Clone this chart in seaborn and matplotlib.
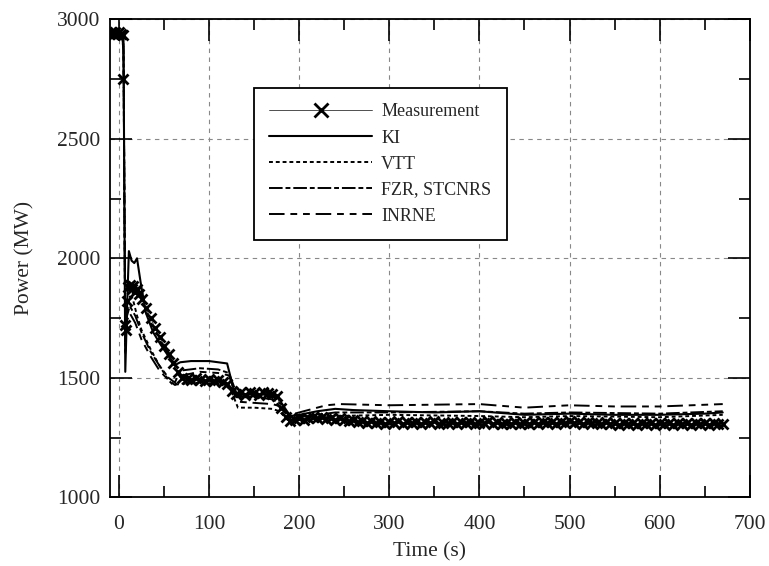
import numpy as np
import pandas as pd
import matplotlib
matplotlib.use("Agg")
import matplotlib.pyplot as plt
from matplotlib.ticker import MultipleLocator
import seaborn as sns

meas_t = [-10, -8, -6, -4, -2, 0, 2, 4, 5, 7, 8, 9, 10, 12, 14, 16, 18, 20, 22, 25] + list(range(30, 675, 5))
meas_p = [2940, 2945, 2940, 2945, 2940, 2945, 2940, 2935, 2750, 1720, 1700, 1820, 1880, 1890, 1870, 1885, 1860, 1870, 1850, 1830,
          1790, 1750, 1710, 1670, 1635, 1600, 1560, 1525, 1500, 1495, 1490, 1500, 1490, 1485, 1495, 1488, 1490, 1482, 1475,
          1445, 1432, 1440, 1430, 1442, 1436, 1428, 1440, 1435, 1432, 1425, 1375, 1335, 1320, 1325, 1330, 1322, 1332, 1338,
          1330, 1336, 1328, 1332, 1325, 1330, 1322, 1318, 1325, 1316, 1320, 1312, 1318, 1310, 1316, 1308, 1315, 1310, 1318,
          1308, 1314, 1310, 1316, 1306, 1314, 1310, 1318, 1308, 1312, 1310, 1316, 1306, 1314, 1310, 1316, 1308, 1312, 1310,
          1318, 1306, 1314, 1308, 1312, 1306, 1314, 1308, 1312, 1306, 1314, 1308, 1316, 1310, 1314, 1306, 1316, 1310, 1318,
          1312, 1316, 1308, 1314, 1310, 1312, 1306, 1314, 1308, 1312, 1304, 1310, 1306, 1312, 1304, 1310, 1306, 1312, 1304,
          1310, 1306, 1312, 1304, 1310, 1306, 1310, 1304, 1312, 1306, 1310, 1304, 1310, 1306, 1308]

ki_t = [-10, 3, 5, 7, 9, 11, 14, 17, 20, 24, 30, 38, 46, 55, 63, 68, 80, 100, 120, 129, 140, 160, 175, 190, 200, 220, 240, 260, 300, 350, 400, 450, 500, 550, 600, 650, 670]
ki_p = [2940, 2940, 2930, 1525, 1800, 2030, 1990, 1980, 2000, 1900, 1770, 1690, 1640, 1590, 1555, 1565, 1570, 1570, 1560, 1425, 1430, 1430, 1425, 1340, 1345, 1360, 1370, 1365, 1360, 1355, 1360, 1345, 1350, 1345, 1345, 1350, 1355]

vtt_t = [-10, 3, 5, 7, 9, 12, 16, 20, 25, 35, 45, 55, 60, 70, 90, 110, 122, 132, 150, 170, 178, 188, 200, 220, 240, 300, 400, 450, 500, 600, 670]
vtt_p = [2935, 2935, 2900, 1600, 1780, 1840, 1820, 1760, 1700, 1620, 1550, 1490, 1470, 1475, 1480, 1475, 1470, 1375, 1375, 1370, 1360, 1320, 1325, 1330, 1340, 1345, 1340, 1335, 1340, 1335, 1345]

fzr_t = [-10, 3, 5, 7, 9, 12, 18, 25, 35, 45, 55, 62, 68, 90, 110, 122, 132, 150, 170, 180, 190, 210, 240, 300, 400, 450, 500, 600, 670]
fzr_p = [2940, 2940, 2880, 1650, 1760, 1800, 1760, 1690, 1610, 1550, 1500, 1480, 1530, 1540, 1535, 1520, 1420, 1420, 1410, 1390, 1330, 1340, 1355, 1355, 1360, 1350, 1355, 1350, 1360]

inr_t = [-10, 3, 5, 7, 9, 12, 18, 25, 35, 45, 55, 62, 70, 90, 110, 122, 132, 150, 170, 180, 190, 210, 230, 245, 300, 400, 450, 500, 550, 600, 670]
inr_p = [2940, 2940, 2870, 1700, 1740, 1770, 1730, 1660, 1590, 1530, 1490, 1470, 1510, 1525, 1520, 1510, 1400, 1395, 1390, 1380, 1345, 1365, 1385, 1390, 1385, 1390, 1375, 1385, 1380, 1380, 1390]

sns.set_theme(style="ticks")
plt.rcParams['font.family'] = ['Liberation Serif', 'DejaVu Serif']

fig = plt.figure(figsize=(7.69, 5.66), dpi=100)
ax = fig.add_axes([0.143, 0.1214, 0.832, 0.8445])

sns.lineplot(x=meas_t, y=meas_p, ax=ax, color='#333333', lw=0.6, marker='x', markersize=7.5,
             markeredgewidth=2.0, markeredgecolor='black', estimator=None, sort=False, label='Measurement')
sns.lineplot(x=ki_t, y=ki_p, ax=ax, color='black', lw=1.5, estimator=None, sort=False, label='KI')
sns.lineplot(x=vtt_t, y=vtt_p, ax=ax, color='black', lw=1.4, linestyle=(0, (2.0, 1.5)),
             estimator=None, sort=False, label='VTT')
sns.lineplot(x=fzr_t, y=fzr_p, ax=ax, color='black', lw=1.4, linestyle=(0, (7, 1.5, 2.5, 1.5)),
             estimator=None, sort=False, label='FZR, STCNRS')
sns.lineplot(x=inr_t, y=inr_p, ax=ax, color='black', lw=1.4, linestyle=(0, (8, 3, 3.5, 3, 3.5, 3)),
             estimator=None, sort=False, label='INRNE')

ax.set_xlim(-10, 700)
ax.set_ylim(1000, 3000)
ax.xaxis.set_major_locator(MultipleLocator(100))
ax.xaxis.set_minor_locator(MultipleLocator(50))
ax.yaxis.set_major_locator(MultipleLocator(500))
ax.yaxis.set_minor_locator(MultipleLocator(250))
ax.tick_params(which='both', direction='in', top=True, right=True, color='black', labelsize=15.5)
ax.tick_params(axis='x', which='both', pad=13)
ax.tick_params(axis='y', which='both', pad=7)
ax.tick_params(which='major', length=15.5, width=1.2)
ax.tick_params(which='minor', length=7.7, width=1.2)
ax.grid(True, which='major', color='#888888', linestyle=(0, (4, 4)), lw=0.8)
for s in ax.spines.values():
    s.set_linewidth(1.3)
    s.set_color('black')

ax.set_xlabel('Time (s)', fontsize=15.5, labelpad=6)
ax.set_ylabel('Power (MW)', fontsize=15.5, labelpad=16)

leg = ax.legend(loc='upper left', bbox_to_anchor=(0.225, 0.856), fontsize=13, handlelength=5.7,
                labelspacing=0.5, borderpad=0.85, handletextpad=0.5, markerscale=1.3,
                frameon=True, fancybox=False, edgecolor='black', framealpha=1, borderaxespad=0)
leg.get_frame().set_linewidth(1.3)

fig.savefig('out.png', dpi=100)
